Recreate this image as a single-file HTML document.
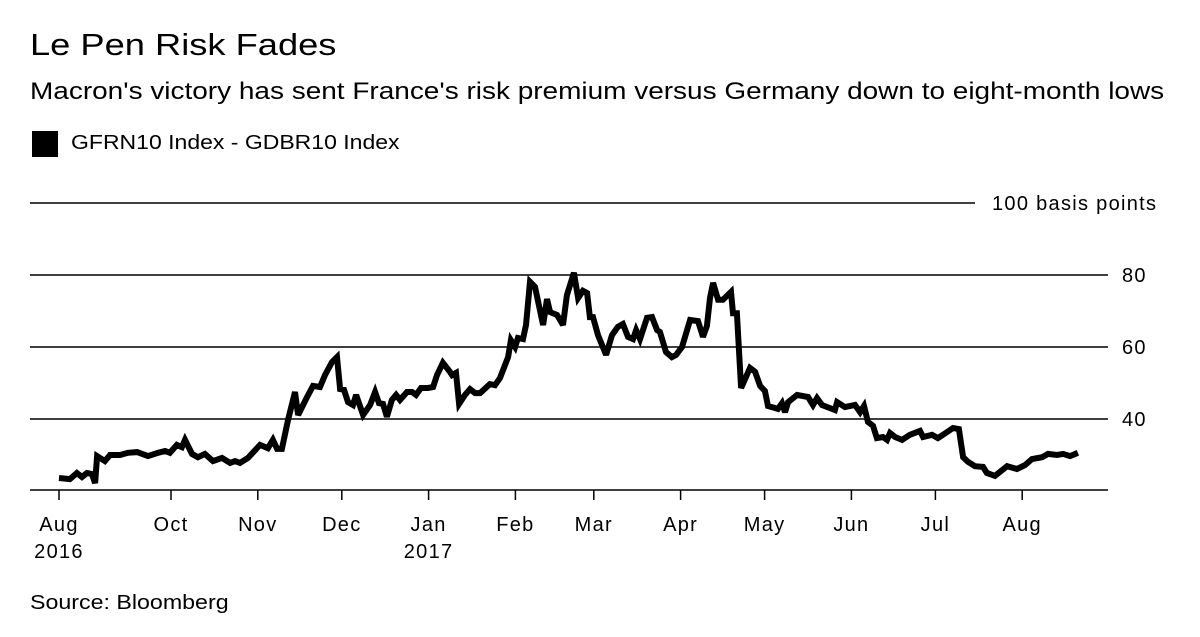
<!DOCTYPE html>
<html><head><meta charset="utf-8"><style>
body{margin:0;background:#fff;font-family:"Liberation Sans",sans-serif;color:#000}
#wrap{position:relative;width:1200px;height:637px;overflow:hidden}
.t{position:absolute;white-space:nowrap;transform-origin:left top}
</style></head><body><div id="wrap">
<div class="t" style="left:30px;top:27px;font-size:31px;transform:scaleX(1.17)">Le Pen Risk Fades</div>
<div class="t" style="left:30px;top:78px;font-size:24px;transform:scaleX(1.165)">Macron's victory has sent France's risk premium versus Germany down to eight-month lows</div>
<div style="position:absolute;left:32px;top:131px;width:26px;height:26px;background:#000"></div>
<div class="t" style="left:71px;top:132px;font-size:20px;transform:scaleX(1.15)">GFRN10 Index - GDBR10 Index</div>
<div class="t" style="left:30px;top:592px;font-size:20px;transform:scaleX(1.16)">Source: Bloomberg</div>
<svg id="chart" width="1200" height="637" style="position:absolute;left:0;top:0"></svg>
</div>
<script>
const days=[0,3.9,6.4,8.2,10,11.8,12.9,13.6,16.4,18.2,21.8,24.6,27.9,31.8,35.4,37.9,39.6,42.1,43.9,45,47.5,49.6,52.1,55,58.2,61.1,62.9,64.6,67.5,71.8,74.6,76.4,77.9,79.6,81.8,84.3,85.4,88.6,90.7,93.2,95,97.5,99.3,100.4,101.8,103.2,105,106.1,108.6,111.1,112.9,114.3,115.7,117.1,118.9,120.4,121.8,124.3,126.1,127.5,129.3,131.8,133.6,135,137.1,139.6,140.4,141.8,142.9,145,146.8,148.6,150.4,153.9,155.7,157.5,160.4,161.4,162.9,163.9,165.7,166.8,168.2,170,172.9,174.3,175.4,177.9,180,181.4,183.9,185.4,187.1,188.6,189.6,190.7,192.5,195.4,197.5,199.6,201.4,203.2,205,206.1,207.5,210,211.8,213.6,214.6,216.8,218.9,220.4,222.5,225.4,228.2,230,231.4,232.5,233.6,235.4,237.1,240,240.7,242.1,243.6,246.8,248.6,250.4,252.1,253.2,256.8,258.2,259.3,260.4,263.6,267.5,269.3,270.7,272.5,277.1,277.9,280.7,284.3,286.1,287.5,288.9,290.7,292.1,294.3,295.7,296.8,298.6,301.1,303.9,307.5,308.6,311.8,313.9,315.7,319.3,321.4,322.9,324.6,327.1,330,331.4,334.3,338.6,342.1,345,347.5,351.1,353.2,356.4,358.6,361.1,363.9];
const spread=[23.6,23.3,25,23.9,25,24.7,22.2,29.7,28.3,30,30,30.6,30.8,29.7,30.6,31.1,30.6,32.8,32.2,34.2,30.3,29.4,30.3,28.3,29.2,27.8,28.3,27.8,29.2,32.8,31.9,34.2,31.7,31.7,39.7,47.5,41.1,46.1,49.2,48.9,52.2,55.8,57.2,48.3,48.1,44.7,43.9,46.7,41.1,43.9,47.5,44.4,44.2,40.6,45.3,46.7,45.3,47.5,47.5,46.7,48.6,48.6,48.9,52.2,55.6,53.1,52.2,52.8,44.2,46.7,48.3,47.2,47.2,49.7,49.4,51.4,57.2,61.9,60,62.5,62.2,66.1,78.1,76.7,66.1,73.3,69.7,68.9,66.1,74.4,80.6,73.6,75.6,75,68.3,68.3,63.3,57.8,63.3,65.6,66.4,62.8,62.2,64.7,62.2,68.1,68.3,64.7,64.2,58.6,57.2,57.8,60,67.5,67.2,62.8,65.8,73.6,77.8,73.1,73.1,75.3,69.4,69.4,48.6,54.2,53.1,49.2,47.8,43.6,42.8,44.4,41.9,44.7,46.7,46.1,43.9,45.8,43.9,42.5,44.7,43.3,43.9,41.9,43.6,39.2,38.1,34.7,35,34.2,36.1,35,34.2,35.6,36.7,35,35.6,34.7,35.6,37.5,37.2,29.4,28.1,26.9,26.7,25,24.2,26.9,26.1,27.2,28.9,29.4,30.3,30,30.3,29.7,30.6];
const yTicks=[40,60,80];
const tickDays=[0,40,71,101,132,163,191,222,252,283,313,344];
const tickLabels=["Aug","Oct","Nov","Dec","Jan","Feb","Mar","Apr","May","Jun","Jul","Aug"];
const tickYears=["2016","","","","2017","","","","","","",""];
const svg=document.getElementById('chart');const NS='http://www.w3.org/2000/svg';
const xs=d=>59+d*2.8, ys=v=>563-v*3.6;
const FONT={'font-size':20,'font-family':'Liberation Sans','letter-spacing':1.3};
function mk(tag,attrs){const e=document.createElementNS(NS,tag);for(const k in attrs)e.setAttribute(k,attrs[k]);svg.appendChild(e);return e;}
let e=mk('line',{x1:30,x2:975,y1:ys(100),y2:ys(100),stroke:'#000','stroke-width':1.5});


e=mk('text',Object.assign({x:992,y:ys(100)+7},FONT));e.textContent='100 basis points';


yTicks.forEach(v=>{let g=mk('line',{x1:30,x2:1108,y1:ys(v),y2:ys(v),stroke:'#000','stroke-width':1.5});


let t=mk('text',Object.assign({x:1122,y:ys(v)+7},FONT));t.textContent=v;

});
e=mk('line',{x1:30,x2:1108,y1:490,y2:490,stroke:'#000','stroke-width':1.5});


tickDays.forEach((d,i)=>{let l=mk('line',{x1:xs(d),x2:xs(d),y1:490,y2:500,stroke:'#000','stroke-width':1.5});


let t=mk('text',Object.assign({x:xs(d),y:531,'text-anchor':'middle'},FONT));t.textContent=tickLabels[i];


if(tickYears[i]){let y=mk('text',Object.assign({x:xs(d),y:558,'text-anchor':'middle'},FONT));y.textContent=tickYears[i];

}});
const p=mk('path',{d:days.map((d,i)=>(i?'L':'M')+xs(d).toFixed(1)+' '+ys(spread[i]).toFixed(1)).join(''),fill:'none',stroke:'#000','stroke-width':6,'stroke-linejoin':'miter','stroke-miterlimit':3});


</script></body></html>
